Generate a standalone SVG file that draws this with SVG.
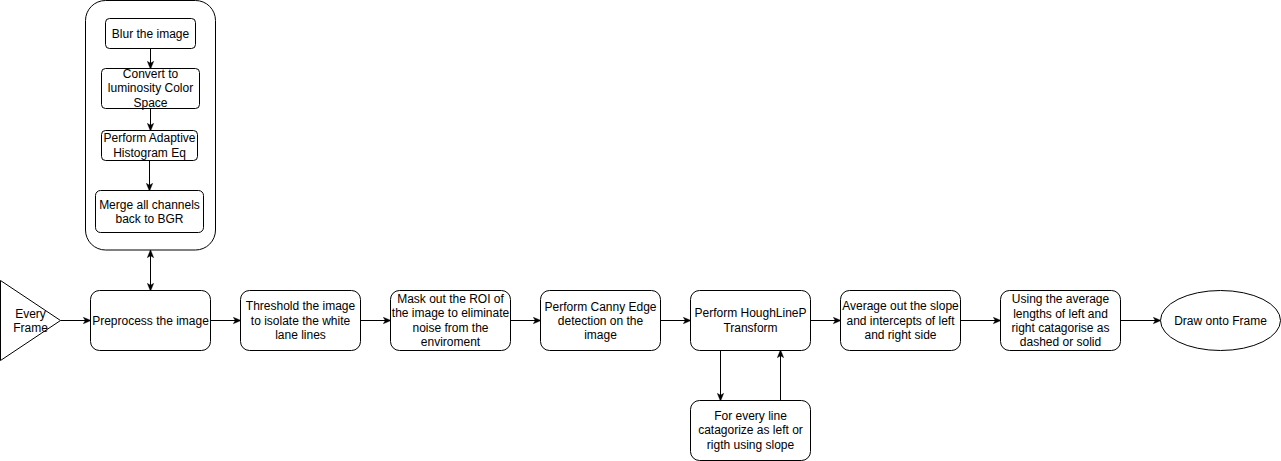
<svg xmlns="http://www.w3.org/2000/svg" width="1281" height="461" viewBox="0 0 1281 461">
<style>
.n{fill:#fff;stroke:#000;stroke-width:1}
.t{font-family:"Liberation Sans",Arial,sans-serif;font-size:12px;fill:#000;text-anchor:middle;dominant-baseline:central}
.e{fill:none;stroke:#000;stroke-width:1}
</style>
<defs>
<marker id="a" viewBox="0 0 10 10" refX="9" refY="5" markerWidth="8" markerHeight="8" markerUnits="userSpaceOnUse" orient="auto-start-reverse">
<path d="M0,1 L10,5 L0,9 L2.5,5 z" fill="#000" stroke="#000" stroke-width="0.5"/>
</marker>
</defs>
<rect width="1281" height="461" fill="#fff"/>
<g transform="translate(0.5,0.5)">
<g id="container"><rect class="n" x="85" y="0" width="130" height="249.5" rx="20"/></g>
<g id="connectors">
<path class="e" d="M150,48 V68" marker-end="url(#a)"/>
<path class="e" d="M150,108 V130" marker-end="url(#a)"/>
<path class="e" d="M149,160 V190" marker-end="url(#a)"/>
<path class="e" d="M150,250 V290" marker-start="url(#a)" marker-end="url(#a)"/>
<path class="e" d="M60,320 H90" marker-end="url(#a)"/>
<path class="e" d="M210,320 H240" marker-end="url(#a)"/>
<path class="e" d="M360,320 H390" marker-end="url(#a)"/>
<path class="e" d="M510,320 H540" marker-end="url(#a)"/>
<path class="e" d="M660,320 H690" marker-end="url(#a)"/>
<path class="e" d="M810,320 H840" marker-end="url(#a)"/>
<path class="e" d="M960,320 H1000" marker-end="url(#a)"/>
<path class="e" d="M1120,320 H1160" marker-end="url(#a)"/>
<path class="e" d="M720,350 V400" marker-end="url(#a)"/>
<path class="e" d="M780,400 V350" marker-end="url(#a)"/>
</g>
<g id="blur"><rect class="n" x="105" y="18" width="90" height="30" rx="4"/><text class="t" x="150" y="33">Blur the image</text></g>
<g id="convert"><rect class="n" x="101" y="68" width="98" height="40" rx="4"/><text class="t" x="150" y="73">Convert to</text><text class="t" x="150" y="87">luminosity Color</text><text class="t" x="150" y="102">Space</text></g>
<g id="adaptive"><rect class="n" x="101" y="130" width="96" height="30" rx="4"/><text class="t" x="149" y="137">Perform Adaptive</text><text class="t" x="149" y="152">Histogram Eq</text></g>
<g id="merge"><rect class="n" x="95" y="190" width="108" height="42" rx="5"/><text class="t" x="149" y="204">Merge all channels</text><text class="t" x="149" y="218">back to BGR</text></g>
<g id="frame"><polygon class="n" points="0,280 60,320 0,360"/><text class="t" x="30" y="313">Every</text><text class="t" x="30" y="327">Frame</text></g>
<g id="preprocess"><rect class="n" x="90" y="290" width="120" height="60" rx="9"/><text class="t" x="150" y="320">Preprocess the image</text></g>
<g id="threshold"><rect class="n" x="240" y="290" width="120" height="60" rx="9"/><text class="t" x="300" y="305">Threshold the image</text><text class="t" x="300" y="320">to isolate the white</text><text class="t" x="300" y="334">lane lines</text></g>
<g id="mask"><rect class="n" x="390" y="290" width="120" height="60" rx="9"/><text class="t" x="450" y="298">Mask out the ROI of</text><text class="t" x="450" y="312">the image to eliminate</text><text class="t" x="450" y="327">noise from the</text><text class="t" x="450" y="341">enviroment</text></g>
<g id="canny"><rect class="n" x="540" y="290" width="120" height="60" rx="9"/><text class="t" x="600" y="306">Perform Canny Edge</text><text class="t" x="600" y="320">detection on the</text><text class="t" x="600" y="334">image</text></g>
<g id="hough"><rect class="n" x="690" y="290" width="120" height="60" rx="9"/><text class="t" x="750" y="312">Perform HoughLineP</text><text class="t" x="750" y="327">Transform</text></g>
<g id="average"><rect class="n" x="840" y="290" width="120" height="60" rx="9"/><text class="t" x="900" y="305">Average out the slope</text><text class="t" x="900" y="320">and intercepts of left</text><text class="t" x="900" y="334">and right side</text></g>
<g id="using"><rect class="n" x="1000" y="290" width="120" height="60" rx="9"/><text class="t" x="1060" y="298">Using the average</text><text class="t" x="1060" y="313">lengths of left and</text><text class="t" x="1060" y="327">right catagorise as</text><text class="t" x="1060" y="341">dashed or solid</text></g>
<g id="draw"><ellipse class="n" cx="1220" cy="320" rx="60" ry="30"/><text class="t" x="1220" y="320">Draw onto Frame</text></g>
<g id="forevery"><rect class="n" x="690" y="400" width="120" height="60" rx="9"/><text class="t" x="750" y="415">For every line</text><text class="t" x="750" y="429">catagorize as left or</text><text class="t" x="750" y="444">rigth using slope</text></g>
</g>
</svg>
